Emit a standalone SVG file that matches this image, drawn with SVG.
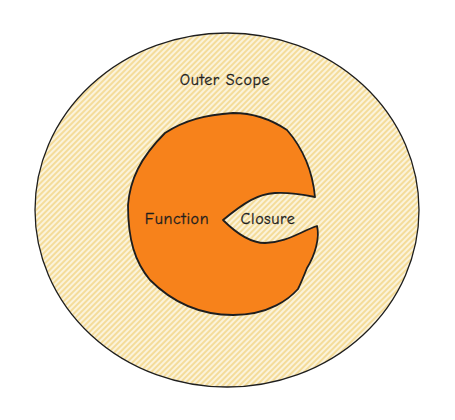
<svg xmlns="http://www.w3.org/2000/svg" width="455" height="420" viewBox="0 0 455 420">
<defs>
<pattern id="hatch" patternUnits="userSpaceOnUse" width="4" height="4" patternTransform="rotate(-45)">
<rect width="4" height="4" fill="#fcf6e2"/>
<line x1="0" y1="2" x2="4" y2="2" stroke="#f4dc9a" stroke-width="2.2"/>
</pattern>
</defs>
<style>
.lbl{font-family:"Comic Neue","Liberation Sans",sans-serif;font-size:16px;fill:#1e1e1e;stroke:#1e1e1e;stroke-width:0.3;letter-spacing:0.6px}
</style>
<rect width="455" height="420" fill="#ffffff"/>
<g id="outer-scope">
<ellipse cx="227" cy="210" rx="192" ry="177" fill="url(#hatch)" stroke="#1e1e1e" stroke-width="1.3"/>
<text class="lbl" x="225" y="85" text-anchor="middle">Outer Scope</text>
</g>
<g id="function">
<path d="M287,130 C300,145 312,165 315,197 C305,195 290,192 275,193 C258,194 245,202 223,220 C235,232 250,243 265,243 C285,243 300,232 317,226 C320,238 315,255 307,268 C303,278 300,285 298,289 C290,298 270,315 233,315 C205,315 175,305 150,280 C135,262 128,240 128,205 C130,180 140,158 165,133 C185,120 205,115 233,113 C255,113 272,120 287,130 Z" fill="#f7821b" stroke="#1e1e1e" stroke-width="1.8" stroke-linejoin="round"/>
<text class="lbl" x="177" y="224" text-anchor="middle">Function</text>
</g>
<g id="closure">
<text class="lbl" x="268" y="224" text-anchor="middle">Closure</text>
</g>
</svg>
